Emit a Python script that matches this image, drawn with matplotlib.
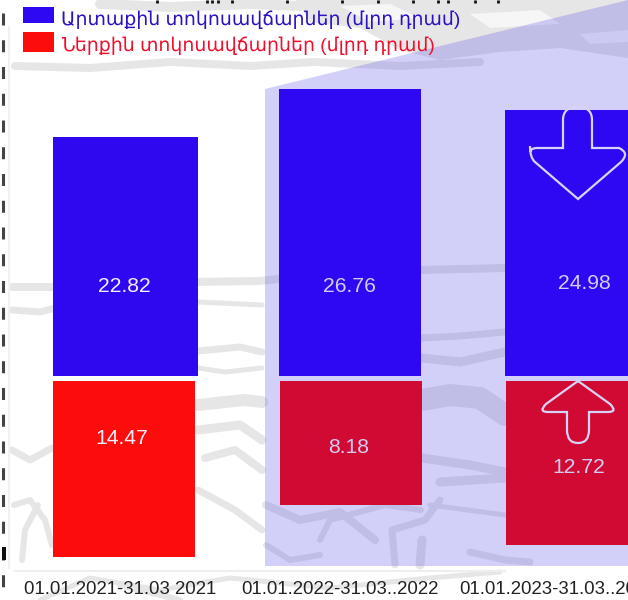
import numpy as np
import matplotlib
matplotlib.use('Agg')
import matplotlib.pyplot as plt
from matplotlib.path import Path
from matplotlib.patches import PathPatch, Polygon, Rectangle

# Chart content
periods = ['01.01.2021-31.03 2021', '01.01.2022-31.03..2022', '01.01.2023-31.03..2023']
external_debt = [22.82, 26.76, 24.98]
internal_debt = [14.47, 8.18, 12.72]
legend_labels = ['Արտաքին տոկոսավճարներ (մլրդ դրամ)', 'Ներքին տոկոսավճարներ (մլրդ դրամ)']

# The source bars are not drawn to scale with their labels,
# so the lengths are read off the picture separately (in px)
external_len = [239, 287, 266]
internal_len = [176, 124, 164]

W, H = 628, 600
plt.rcParams['font.family'] = ['Liberation Sans', 'DejaVu Sans']

fig = plt.figure(figsize=(W / 100, H / 100), dpi=100, facecolor='white')


def pixel_axes():
    a = fig.add_axes([0, 0, 1, 1], facecolor='none')
    a.set_xlim(0, W)
    a.set_ylim(H, 0)
    a.axis('off')
    return a


# background layer, pixel coordinates
ax = pixel_axes()

# grey watermark: large patches first, then strokes (points, width in px)
grey = '#e6e6e6'
ax.add_patch(Polygon([(296, 0), (628, 0), (628, 58), (560, 48), (500, 52), (440, 60), (400, 50), (360, 28), (310, 22)],
                     closed=True, facecolor=grey, edgecolor='none', zorder=1))
for pts in ([(340, 6), (390, 4), (420, 18), (370, 22)], [(470, 14), (540, 10), (560, 24), (490, 28)],
            [(580, 34), (628, 30), (628, 42), (590, 44)]):
    ax.add_patch(Polygon(pts, closed=True, facecolor='#f6f6f6', edgecolor='none', zorder=1))

strokes = [
    ([(15, 66), (90, 68), (170, 62), (250, 66), (314, 62), (400, 66), (480, 62)], 8),
    ([(100, 4), (170, 7), (250, 4), (300, 6)], 10),
    ([(12, 287), (60, 287), (120, 283), (260, 281), (330, 273), (420, 270), (505, 268)], 8),
    ([(12, 310), (40, 312), (55, 308)], 7),
    ([(198, 302), (262, 305)], 5),
    ([(198, 351), (240, 347), (262, 352)], 7),
    ([(198, 368), (225, 372), (262, 368)], 5),
    ([(198, 405), (225, 402), (245, 400), (262, 402)], 12),
    ([(198, 430), (240, 425), (262, 440)], 9),
    ([(205, 458), (235, 450), (262, 470)], 8),
    ([(198, 490), (235, 510), (262, 530)], 7),
    ([(12, 450), (30, 460), (52, 448)], 7),
    ([(14, 505), (30, 500), (45, 520), (52, 545)], 6),
    ([(22, 560), (25, 530), (38, 505)], 6),
    ([(266, 505), (300, 520), (340, 512), (375, 540)], 8),
    ([(320, 540), (330, 520), (385, 505), (421, 510)], 6),
    ([(266, 545), (290, 560), (320, 555)], 6),
    ([(422, 338), (460, 336), (505, 332)], 7),
    ([(422, 358), (460, 362), (505, 352)], 9),
    ([(422, 400), (450, 395), (480, 398), (505, 415)], 22),
    ([(422, 458), (470, 465), (505, 472)], 9),
    ([(440, 482), (505, 478)], 9),
    ([(430, 505), (505, 515)], 5),
    ([(395, 565), (392, 530), (425, 520), (440, 500)], 7),
    ([(420, 565), (422, 540)], 9),
    ([(470, 552), (505, 560), (530, 562)], 7),
    ([(40, 600), (90, 578), (160, 590), (230, 578), (330, 588), (430, 578), (500, 572)], 5),
    ([(120, 585), (180, 600)], 6),
]
for pts, px in strokes:
    xs, ys = zip(*pts)
    ax.plot(xs, ys, color=grey, lw=px * 0.72, solid_capstyle='round', solid_joinstyle='round', zorder=1)

# faint frame lines
ax.plot([9, 9], [27, 568], color='#f1f1f1', lw=1.5, zorder=2)
ax.plot([15, 505], [571, 571], color='#eeeeee', lw=1.5, zorder=2)

# lavender panel
ax.add_patch(Polygon([(265, 89), (628, 0), (628, 566), (265, 566)], closed=True,
                     facecolor='#4f47e7', edgecolor='none', alpha=0.25, zorder=3))

# dashed left border
ax.plot([2.5, 2.5], [13, 590], color='#444444', lw=2.2, dashes=(12 / 3.05, 14.7 / 3.05),
        dash_capstyle='butt', zorder=4)
ax.add_patch(Rectangle((2, 547), 4, 13, facecolor='#111111', edgecolor='none', zorder=4))

# bottoms of the clipped title
title_marks = [157, 207, 212, 218, 232, 287, 342, 378, 413, 438, 448, 475, 498]
ax.vlines(title_marks, 0, 3, color='#111111', lw=2, zorder=4)

# bars layer, data coordinates
slot = 226
ax_bars = fig.add_axes([0, 0, 1, 1], facecolor='none')
ax_bars.set_xlim(-125.5 / slot, (W - 125.5) / slot)
ax_bars.set_ylim(378 - H, 378)
ax_bars.axis('off')

x = np.arange(len(periods))
gap = 2.5
ax_bars.bar(x + np.array([0, -1.5, 0]) / slot, external_len, bottom=gap,
            width=np.array([145, 142, 145]) / slot, color=['#3008f0', '#2e08f2', '#2e08f2'], zorder=5)
ax_bars.bar(x + np.array([-1.5, -0.5, 1]) / slot, [-v for v in internal_len], bottom=-gap,
            width=np.array([142, 142, 145]) / slot, color=['#fd0c0c', '#d00a33', '#d00a33'], zorder=5)

# text and arrows go above the bars
top = pixel_axes()

# value labels
external_xy = [(124.5, 286.5), (349, 286.5), (584, 283.5)]
internal_xy = [(122, 438.5), (349, 447.5), (579, 467.5)]
label_colors = ['#f2f0ff', '#d0cdf5', '#d0cdf5']
for vals, xy in ((external_debt, external_xy), (internal_debt, internal_xy)):
    for v, (lx, ly), c in zip(vals, xy, label_colors):
        top.text(lx, ly, '%.2f' % v, color=c, fontsize=15.2, ha='center', va='center', zorder=7)

# period labels
for p, lx in zip(periods, [23.5, 241.5, 459.5]):
    top.text(lx, 590, p, color='#222222', fontsize=13.4, ha='left', va='center', zorder=7)


def arrow(points, codes):
    top.add_patch(PathPatch(Path(points, codes), facecolor='none', edgecolor='#d6d4f6',
                            lw=1.6, zorder=6))


M, L, C = Path.MOVETO, Path.LINETO, Path.CURVE3

# down arrow on the third blue bar
arrow([(530, 146), (530, 158), (535, 162), (578, 199), (621, 162), (630, 153), (619, 148),
       (592, 148), (592, 120), (592, 107), (577.5, 107), (563, 107), (563, 120), (563, 148),
       (537, 148), (531, 148), (530, 152)],
      [M, C, C, L, L, C, C, L, L, C, C, C, C, L, L, C, C])

# up arrow on the third red bar
arrow([(578, 381), (546, 404), (538, 412), (548, 412), (567, 412), (567, 430), (567, 443), (578, 443),
       (589, 443), (589, 430), (589, 412), (608, 412), (618, 412), (610, 404), (578, 381)],
      [M, L, C, C, L, L, C, C, C, C, L, L, C, C, L])

# legend
top.add_patch(Rectangle((23, 7), 31, 16, facecolor='#2e08f2', edgecolor='none', zorder=7))
top.add_patch(Rectangle((23, 32), 31, 20, facecolor='#fd0c0c', edgecolor='none', zorder=7))
top.text(61, 19.5, legend_labels[0], color='#2a12c4', fontsize=13.55, ha='left', va='center', zorder=7)
top.text(61, 45.5, legend_labels[1], color='#f0102e', fontsize=13.55, ha='left', va='center', zorder=7)

fig.savefig('out.png', dpi=100)
